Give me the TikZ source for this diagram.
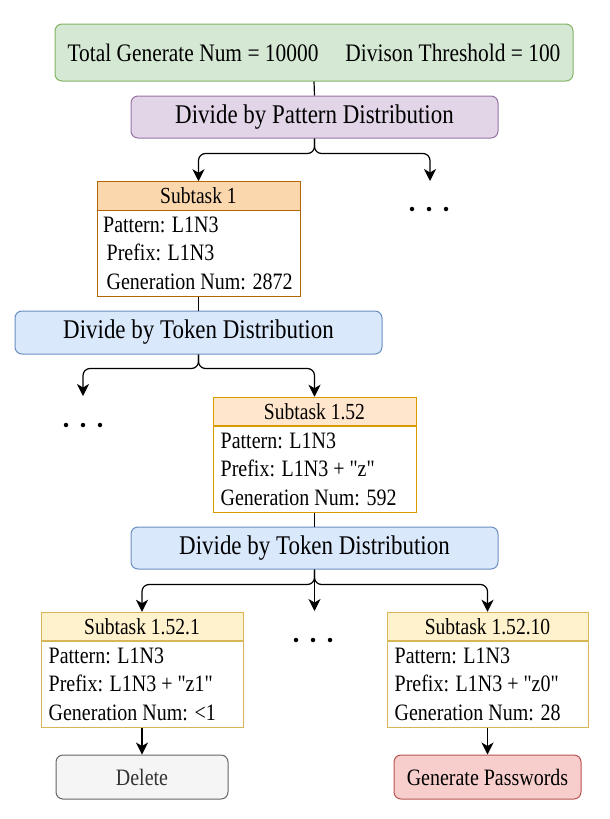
\documentclass[tikz,border=0pt]{standalone}
\usepackage{fontspec}
\setmainfont{Liberation Serif}[FakeStretch=0.85]
\usetikzlibrary{arrows.meta,calc}
\definecolor{grfill}{HTML}{D5E8D4}\definecolor{grline}{HTML}{82B366}
\definecolor{pufill}{HTML}{E1D5E7}\definecolor{puline}{HTML}{9673A6}
\definecolor{blfill}{HTML}{DAE8FC}\definecolor{blline}{HTML}{6C8EBF}
\definecolor{orfill}{HTML}{FAD7AC}\definecolor{orline}{HTML}{B46504}
\definecolor{lofill}{HTML}{FFE6CC}\definecolor{loline}{HTML}{D79B00}
\definecolor{yefill}{HTML}{FFF2CC}\definecolor{yeline}{HTML}{D6B656}
\definecolor{gyfill}{HTML}{F5F5F5}\definecolor{gyline}{HTML}{666666}\definecolor{gytext}{HTML}{333333}
\definecolor{rdfill}{HTML}{F8CECC}\definecolor{rdline}{HTML}{B85450}
\font\qfont="Liberation Serif:extend=0.85" at 23.5pt
\newcommand{\qd}{{\qfont\symbol{34}}}
\begin{document}
\begin{tikzpicture}[x=1pt,y=-1pt,
  rbox/.style={draw, rounded corners=7pt, line width=1pt, inner sep=0pt},
  hbox/.style={draw, line width=1pt, inner sep=0pt, minimum height=28.5pt, font=\fontsize{23}{27}\selectfont},
  bbox/.style={draw, line width=1pt, inner sep=0pt, minimum height=86pt, fill=white},
  rows/.style={anchor=west, align=left, inner sep=0pt, font=\fontsize{23.5}{28.5}\selectfont},
  conn/.style={line width=1.2pt, rounded corners=7pt},
  arr/.style={conn, -{Stealth[length=12pt,width=12pt,inset=3.5pt]}},
  dotnode/.style={circle, fill=black, inner sep=0pt, minimum size=4.5pt}
]
\useasboundingbox (0,0) rectangle (610,819);

% top boxes
\node[rbox, fill=grfill, draw=grline, minimum width=518pt, minimum height=57pt, font=\fontsize{25.2}{29}\selectfont] (total) at (314,52.5) {Total Generate Num = 10000\hspace{27pt}Divison Threshold = 100};
\node[rbox, fill=pufill, draw=puline, minimum width=367pt, minimum height=42pt, font=\fontsize{27}{31}\selectfont] (pd) at (314.5,117) {Divide by Pattern Distribution};

% subtask 1
\node[hbox, fill=orfill, draw=orline, minimum width=203pt] (s1h) at (198.5,196) {Subtask 1};
\node[bbox, draw=orline, minimum width=203pt] (s1b) at (198.5,253) {};
\node[rows] (s1t) at ($(s1b.west)+(6.5,0)$) {Pattern: L1N3\\\hspace*{3.5pt}Prefix: L1N3\\\hspace*{3.5pt}Generation Num: 2872};

\node[rbox, fill=blfill, draw=blline, minimum width=367pt, minimum height=43pt, font=\fontsize{27}{31}\selectfont] (tk1) at (198.5,332.5) {Divide by Token Distribution};

% subtask 1.52
\node[hbox, fill=lofill, draw=loline, minimum width=203pt] (s152h) at (314.5,411.5) {Subtask 1.52};
\node[bbox, draw=loline, minimum width=203pt] (s152b) at (314.5,469) {};
\node[rows] (s152t) at ($(s152b.west)+(8,0)$) {Pattern: L1N3\\Prefix: L1N3 + \qd z\qd\\Generation Num: 592};

\node[rbox, fill=blfill, draw=blline, minimum width=367pt, minimum height=42pt, font=\fontsize{27}{31}\selectfont] (tk2) at (314.5,548) {Divide by Token Distribution};

% subtask 1.52.1
\node[hbox, fill=yefill, draw=yeline, minimum width=202pt] (s1521h) at (142,626.5) {Subtask 1.52.1};
\node[bbox, draw=yeline, minimum width=202pt] (s1521b) at (142,684) {};
\node[rows] (s1521t) at ($(s1521b.west)+(8,0)$) {Pattern: L1N3\\Prefix: L1N3 + \qd z1\qd\\Generation Num: <1};

% subtask 1.52.10
\node[hbox, fill=yefill, draw=yeline, minimum width=201pt] (s15210h) at (487.5,626.5) {Subtask 1.52.10};
\node[bbox, draw=yeline, minimum width=201pt] (s15210b) at (487.5,684) {};
\node[rows] (s15210t) at ($(s15210b.west)+(8,0)$) {Pattern: L1N3\\Prefix: L1N3 + \qd z0\qd\\Generation Num: 28};

% results
\node[rbox, fill=gyfill, draw=gyline, text=gytext, minimum width=172pt, minimum height=44pt, font=\fontsize{23.5}{27}\selectfont] (del) at (142,777) {Delete};
\node[rbox, fill=rdfill, draw=rdline, minimum width=187pt, minimum height=44pt, font=\fontsize{23.5}{27}\selectfont] (gen) at (487.5,777) {Generate Passwords};

% dots
\node[dotnode] (d1a) at (412,209) {};
\node[dotnode] (d1b) at (429,209) {};
\node[dotnode] (d1c) at (446,209) {};
\node[dotnode] (d2a) at (66,425) {};
\node[dotnode] (d2b) at (83,425) {};
\node[dotnode] (d2c) at (100,425) {};
\node[dotnode] (d3a) at (296,640) {};
\node[dotnode] (d3b) at (313,640) {};
\node[dotnode] (d3c) at (330,640) {};

% free arrow ends
\coordinate (r1) at (430,181);
\coordinate (l2) at (83,396);
\coordinate (m3) at (314.5,611);

% connectors
\draw[conn] (total.south) -- (pd.north);
\draw[arr] (pd.south) -- ++(0,15) -| (s1h.north);
\draw[arr] (pd.south) -- ++(0,15) -| (r1);
\draw[conn] (s1b.south) -- (tk1.north);
\draw[arr] (tk1.south) -- ++(0,14) -| (l2);
\draw[arr] (tk1.south) -- ++(0,14) -| (s152h.north);
\draw[conn] (s152b.south) -- (tk2.north);
\draw[arr] (tk2.south) -- ++(0,15) -| (s1521h.north);
\draw[arr] (tk2.south) -- ++(0,15) -| (s15210h.north);
\draw[arr] (tk2.south) -- (m3);
\draw[arr] (s1521b.south) -- (del.north);
\draw[arr] (s15210b.south) -- (gen.north);
\end{tikzpicture}
\end{document}
